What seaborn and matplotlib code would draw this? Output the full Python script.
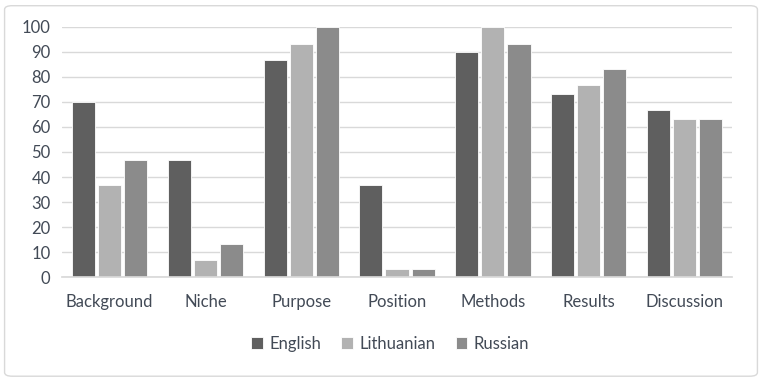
import matplotlib
matplotlib.use("Agg")
import matplotlib.pyplot as plt
import pandas as pd
import seaborn as sns
from matplotlib.patches import FancyBboxPatch

categories = ["Background", "Niche", "Purpose", "Position", "Methods", "Results", "Discussion"]
english = [70, 46.7, 86.7, 36.7, 90, 73.3, 66.7]
lithuanian = [36.7, 6.7, 93.3, 3.3, 100, 76.7, 63.3]
russian = [46.7, 13.3, 100, 3.3, 93.3, 83.3, 63.3]
languages = ["English", "Lithuanian", "Russian"]
colors = ["#5f5f5f", "#b2b2b2", "#8b8b8b"]

rows = []
for lang, vals in zip(languages, [english, lithuanian, russian]):
    for cat, v in zip(categories, vals):
        rows.append({"category": cat, "language": lang, "value": v})
df = pd.DataFrame(rows)

sns.set_theme(style="white")
plt.rcParams["font.family"] = ["Lato", "DejaVu Sans"]
text_color = "#424a56"

fig = plt.figure(figsize=(7.62, 3.8), dpi=100)
ax = fig.add_axes([0.081, 0.271, 0.88, 0.658])

sns.barplot(
    data=df, x="category", y="value", hue="language",
    palette=colors, width=0.82, gap=0.12, saturation=1,
    edgecolor="white", linewidth=0.6, legend=True, ax=ax,
)

ax.set_ylim(0, 100)
ax.set_yticks(range(0, 101, 10))
ax.yaxis.grid(True, color="#d9d9d9", linewidth=1)
ax.set_axisbelow(True)
ax.set_xlabel("")
ax.set_ylabel("")
for s in ["top", "right", "left"]:
    ax.spines[s].set_visible(False)
ax.spines["bottom"].set_color("#d9d9d9")
ax.tick_params(axis="both", length=0, labelsize=12, colors=text_color, pad=8)
ax.tick_params(axis="x", pad=12)

ax.legend(
    loc="upper center", bbox_to_anchor=(0.49, -0.175), ncol=3, frameon=False,
    fontsize=12, handlelength=0.7, handleheight=0.7, handletextpad=0.4,
    columnspacing=1.2, labelcolor=text_color,
)

border = FancyBboxPatch((0.006, 0.01), 0.988, 0.975, boxstyle="round,pad=0,rounding_size=0.01",
                        transform=fig.transFigure, facecolor="none",
                        edgecolor="#d9d9d9", linewidth=1)
fig.patches.append(border)

fig.savefig("out.png", dpi=100)
